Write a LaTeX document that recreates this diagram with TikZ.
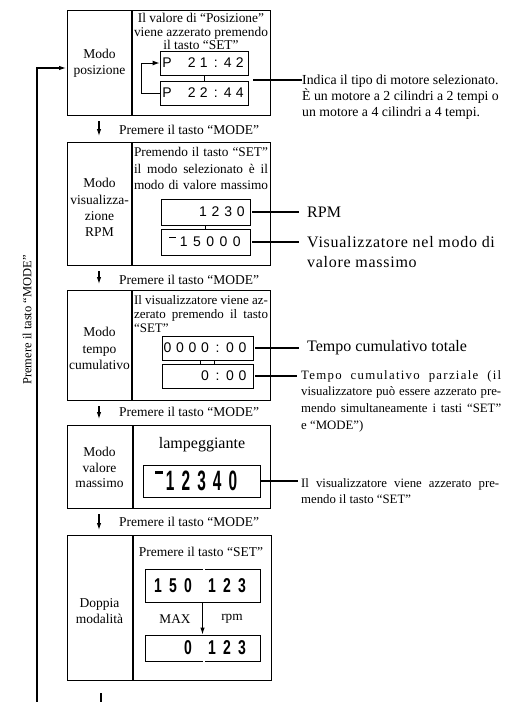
\documentclass[tikz,border=0pt]{standalone}
\usepackage{fontspec}
\setmainfont{Liberation Serif}
\newfontfamily\dispfont{Liberation Sans}
\usetikzlibrary{arrows.meta,calc}
\newdimen\pitch
\def\sploop#1{\ifx#1\relax\else\makebox[\pitch]{#1}\expandafter\sploop\fi}
\def\bigsx{0.6}
\def\bigloop#1{\ifx#1\relax\else\makebox[\pitch]{\scalebox{\bigsx}[1]{#1}}\expandafter\bigloop\fi}
\begin{document}
\begin{tikzpicture}[x=1pt,y=-1pt,
  blk/.style={draw, line width=1.2pt, inner sep=0, anchor=north west},
  disp/.style={draw, line width=0.9pt, inner sep=0},
  divl/.style={line width=1.2pt},
  conn/.style={line width=1.8pt},
  thinl/.style={line width=0.9pt},
  arr/.style={line width=1.1pt, -{Latex[length=7pt,width=4.5pt]}},
  lbl/.style={font=\fontsize{13.5}{16.5}\selectfont, align=center, inner sep=0},
  intxt/.style={font=\fontsize{13.2}{14}\selectfont, align=left, inner sep=0},
  mode/.style={font=\fontsize{13.5}{16}\selectfont, anchor=west, inner sep=0},
  side/.style={font=\fontsize{13.8}{16}\selectfont, anchor=west, align=left, inner sep=0},
  sidebig/.style={font=\fontsize{16}{20}\selectfont, anchor=west, align=left, inner sep=0},
  sidesm/.style={font=\fontsize{12.8}{16.7}\selectfont, anchor=west, align=left, inner sep=0},
  dig/.style={font=\dispfont\fontsize{14}{14}\selectfont, inner sep=0},
  bigdig/.style={font=\dispfont\bfseries\fontsize{28}{28}\selectfont, inner sep=0},
  middig/.style={font=\dispfont\bfseries\fontsize{20}{20}\selectfont, inner sep=0}
]
\useasboundingbox (0,0) rectangle (510,702);
\fill[white] (0,0) rectangle (510,702);

% ---------- blocks ----------
\node[blk, minimum width=203, minimum height=105] (b1) at (67,10) {};
\node[blk, minimum width=203, minimum height=123] (b2) at (67,142) {};
\node[blk, minimum width=203, minimum height=110] (b3) at (67,290) {};
\node[blk, minimum width=203, minimum height=83] (b4) at (67,425) {};
\node[blk, minimum width=204, minimum height=145] (b5) at (67,535) {};
\draw[divl] (132,10) -- (132,115);
\draw[divl] (132,142) -- (132,265);
\draw[divl] (132,290) -- (132,400);
\draw[divl] (133,425) -- (133,508);
\draw[divl] (133,535) -- (133,680);

% ---------- left labels ----------
\node[lbl] (l1) at (99.5,63.5) {Modo\\posizione};
\node[lbl, font=\fontsize{13.5}{16.3}\selectfont] (l2) at (99.5,207.5) {Modo\\visualizza-\\zione\\RPM};
\node[lbl] (l3) at (99.5,348.5) {Modo\\tempo\\cumulativo};
\node[lbl, font=\fontsize{13.5}{15.5}\selectfont] (l4) at (99.5,467.5) {Modo\\valore\\massimo};
\node[lbl, font=\fontsize{13.5}{16}\selectfont] (l5) at (99.5,611) {Doppia\\modalità};

% ---------- texts inside ----------
\node[intxt, align=center, font=\fontsize{13.4}{13.5}\selectfont] (t1) at (201,31.5) {Il valore di “Posizione”\\viene azzerato premendo\\il tasto “SET”};
\node[intxt, font=\fontsize{13.3}{16.5}\selectfont] (t2) at (201,168.5) {\makebox[134pt][s]{Premendo il tasto “SET”}\\\makebox[134pt][s]{il modo selezionato è il}\\\makebox[134pt][s]{modo di valore massimo}};
\node[intxt, font=\fontsize{13}{14}\selectfont] (t3) at (201,314) {\makebox[134pt][s]{Il visualizzatore viene az-}\\\makebox[134pt][s]{zerato premendo il tasto}\\“SET”};
\node[inner sep=0, font=\fontsize{16}{16}\selectfont] (t4) at (202,445) {lampeggiante};
\node[inner sep=0, font=\fontsize{13.5}{14}\selectfont] (t5) at (201,552) {Premere il tasto “SET”};
\node[inner sep=0, font=\fontsize{13.3}{14}\selectfont] (max) at (175,619) {MAX};
\node[inner sep=0, font=\fontsize{13.3}{14}\selectfont] (rpm) at (232,619) {rpm};

% ---------- displays ----------
\node[disp, minimum width=88, minimum height=24] (d1a) at (204,63) {};
\node[disp, minimum width=88, minimum height=24] (d1b) at (204,93) {};
\node[dig] (p1a) at (167,63) {P};
\node[dig, anchor=east] (n1a) at (246,63) {\pitch=12pt\sploop 21:42\relax};
\node[dig] (p1b) at (167,93) {P};
\node[dig, anchor=east] (n1b) at (246,93) {\pitch=12pt\sploop 22:44\relax};
\draw[thinl] (d1a.south) -- (d1b.north);
\draw[line width=1pt, -{Latex[length=7pt,width=5pt]}] (d1b.west) -- ++(-18,0) |- (d1a.west);

\node[disp, minimum width=89, minimum height=26] (d2a) at (205.5,212) {};
\node[disp, minimum width=89, minimum height=26] (d2b) at (205.5,242) {};
\node[dig, anchor=east] (n2a) at (247.3,212) {\pitch=12.6pt\sploop 1230\relax};
\node[dig, anchor=east] (n2b) at (243.7,242) {\pitch=13.3pt\sploop 15000\relax};
\node[fill=black, inner sep=0, minimum width=7, minimum height=1.3] (m2) at (172.5,237.5) {};
\draw[thinl] (d2a.south) -- (d2b.north);

\node[disp, minimum width=91, minimum height=24] (d3a) at (207.5,348) {};
\node[disp, minimum width=91, minimum height=24] (d3b) at (207.5,376) {};
\node[dig, anchor=east] (n3a) at (249,348) {\pitch=12.5pt\sploop 0000:00\relax};
\node[dig, anchor=east] (n3b) at (249,376) {\pitch=12.5pt\sploop 0:00\relax};
\draw[thinl] ([xshift=-7.5pt]d3a.south) -- ([xshift=-7.5pt]d3b.north);
\draw[thinl] ([xshift=6.5pt]d3a.south) -- ([xshift=6.5pt]d3b.north);

\node[disp, minimum width=117, minimum height=32] (d4) at (201.5,481) {};
\node[bigdig, anchor=east] (n4) at (241,480.5) {\pitch=15.7pt\def\bigsx{0.55}\bigloop 12340\relax};
\node[fill=black, inner sep=0, minimum width=8, minimum height=2.4] (m4) at (159,472.5) {};

\node[disp, minimum width=115, minimum height=33] (d5a) at (202.5,585.5) {};
\node[disp, minimum width=115, minimum height=26] (d5b) at (202.5,648) {};
\node[middig] (n5a) at (173,585.5) {\pitch=15pt\def\bigsx{0.7}\bigloop 150\relax};
\node[middig] (n5b) at (227,585.5) {\pitch=15pt\def\bigsx{0.7}\bigloop 123\relax};
\node[middig] (n5c) at (188,648) {\pitch=15pt\def\bigsx{0.7}\bigloop 0\relax};
\node[middig] (n5d) at (227,648) {\pitch=15pt\def\bigsx{0.7}\bigloop 123\relax};
\fill[white] (203.3,568) rectangle (204.8,570);
\fill[white] (203.3,660) rectangle (204.8,662);
\draw[arr, line width=1pt] (d5a.south) -- (d5b.north);

% ---------- arrows between blocks ----------
\coordinate (ax) at (99,0);
\draw[arr, shorten <=5pt, shorten >=6pt] (b1.south -| ax) -- (b2.north -| ax);
\draw[arr, shorten <=5pt, shorten >=6pt] (b2.south -| ax) -- (b3.north -| ax);
\draw[arr, shorten <=5pt, shorten >=6pt] (b3.south -| ax) -- (b4.north -| ax);
\draw[arr, shorten <=5pt, shorten >=5pt] (b4.south -| ax) -- (b5.north -| ax);
\node[mode] (m1) at (119,130) {Premere il tasto “MODE”};
\node[mode] (mm2) at (119,280) {Premere il tasto “MODE”};
\node[mode] (mm3) at (119,412) {Premere il tasto “MODE”};
\node[mode] (mm4) at (119,522) {Premere il tasto “MODE”};

% ---------- loop back ----------
\coordinate (lb) at (37,702);
\coordinate (in1) at (66,68);
\draw[arr] (lb) |- (in1);
\coordinate (bb) at (101,702);
\draw[line width=1.1pt] ($(b5.south -| bb)+(0,12)$) -- (bb);
\node[rotate=90, inner sep=0, font=\fontsize{12.5}{13}\selectfont] (rot) at (27,320) {Premere il tasto “MODE”};

% ---------- side annotations ----------
\node[side] (r1) at (302,97) {Indica il tipo di motore selezionato.\\È un motore a 2 cilindri a 2 tempi o\\un motore a 4 cilindri a 4 tempi.};
\coordinate (c1s) at (253,79.5);
\draw[line width=2pt] (c1s) -- (c1s -| r1.west);

\node[sidebig] (r2) at (307,212) {RPM};
\node[sidebig] (r3) at (307,252) {\addfontfeature{LetterSpace=4.5}Visualizzatore nel modo di\\\addfontfeature{LetterSpace=4.5}valore massimo};
\node[sidebig] (r4) at (307,348) {Tempo cumulativo totale};
\node[sidesm] (r5) at (301,401) {\makebox[200pt][s]{\addfontfeature{LetterSpace=10}Tempo cumulativo parziale (il}\\\makebox[200pt][s]{visualizzatore può essere azzerato pre-}\\\makebox[200pt][s]{mendo simultaneamente i tasti “SET”}\\e “MODE”)};
\node[sidesm, font=\fontsize{12.8}{16}\selectfont] (r6) at (301,491) {\makebox[198pt][s]{Il visualizzatore viene azzerato pre-}\\mendo il tasto “SET”};

\draw[conn, shorten <=2pt, shorten >=8pt] (d2a.east) -- (d2a.east -| r2.west);
\draw[conn, shorten <=2pt, shorten >=8pt] (d2b.east) -- (d2b.east -| r3.west);
\draw[conn, shorten <=2pt, shorten >=8pt] (d3a.east) -- (d3a.east -| r4.west);
\draw[conn, shorten <=2pt, shorten >=4pt] (d3b.east) -- (d3b.east -| r5.west);
\draw[conn, shorten <=1pt, shorten >=3pt] (d4.east) -- (d4.east -| r6.west);
\end{tikzpicture}
\end{document}
